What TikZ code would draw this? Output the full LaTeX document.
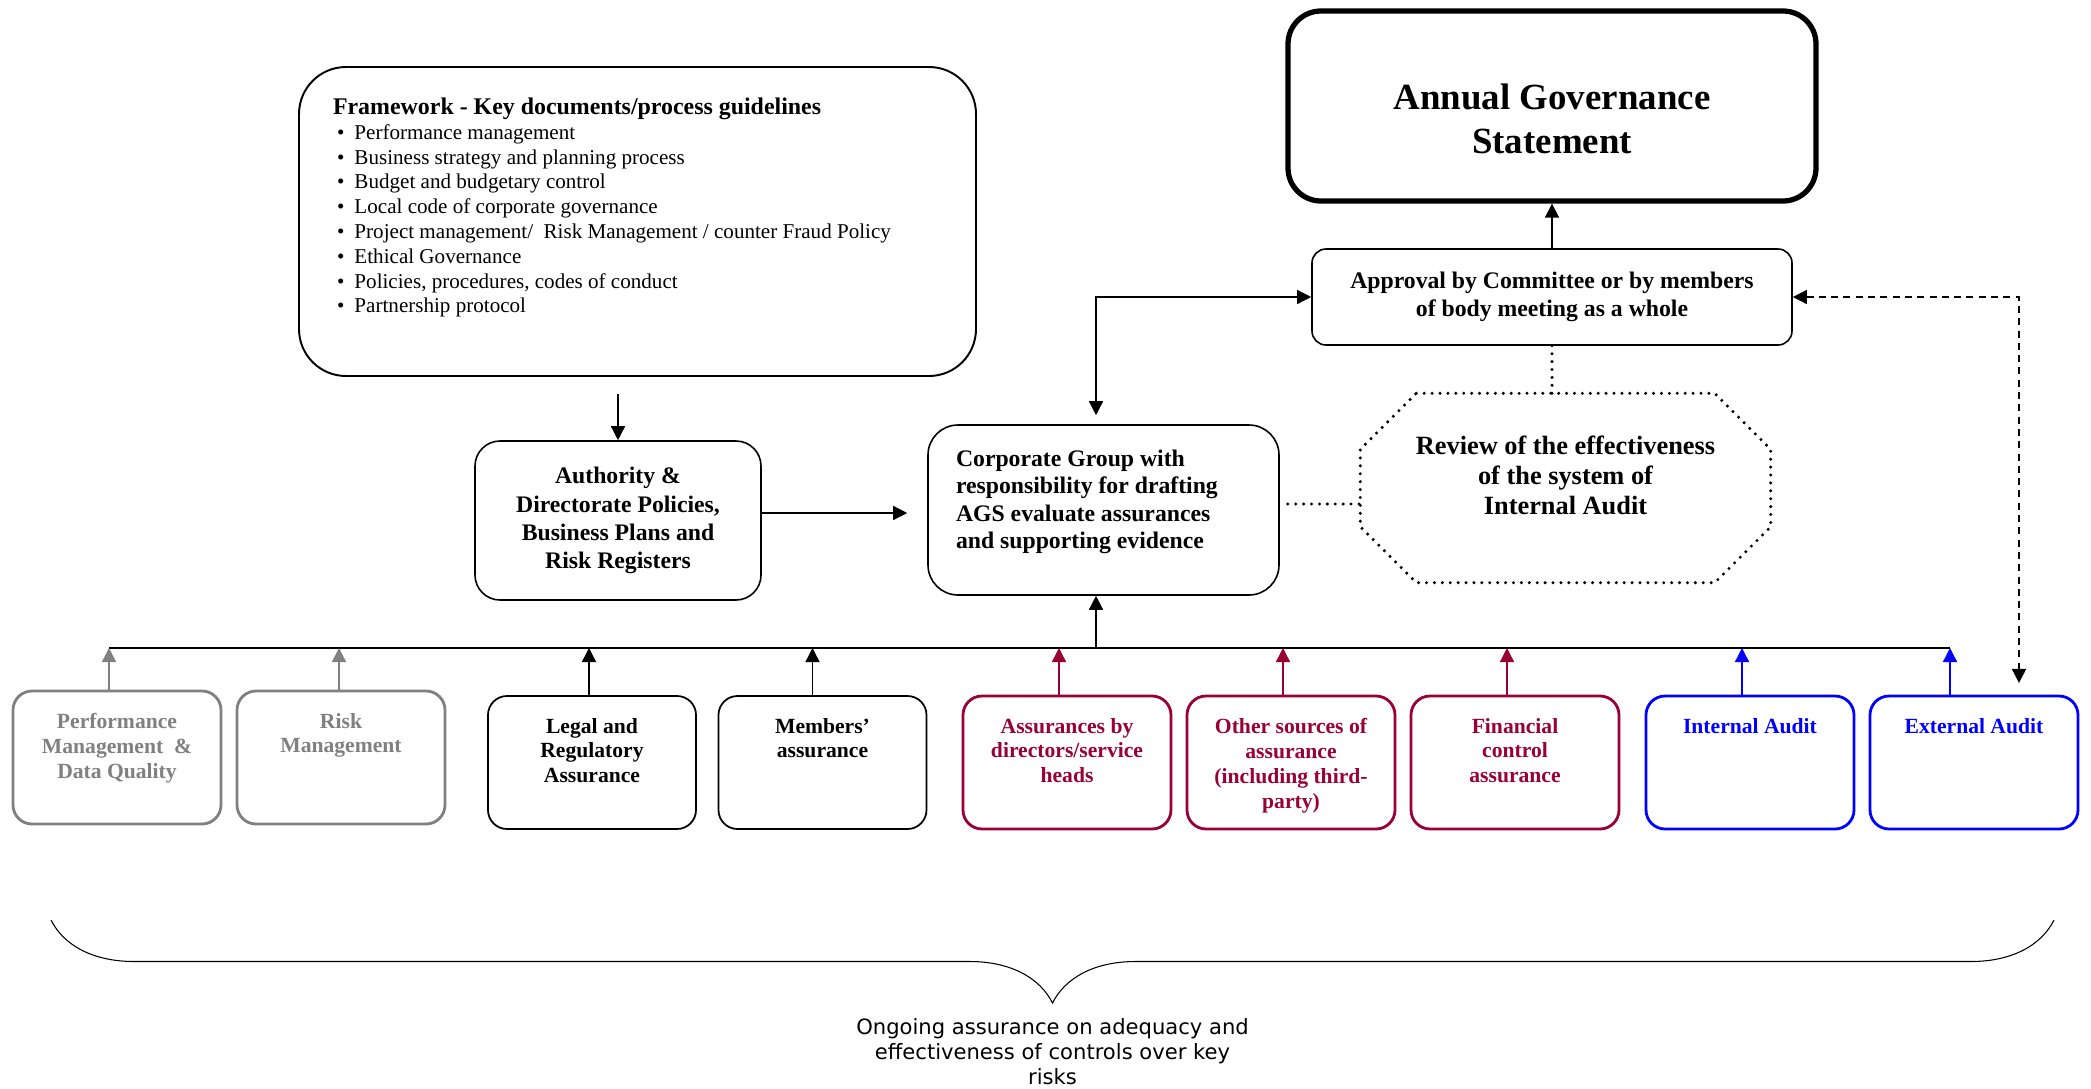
\documentclass[tikz,border=0pt]{standalone}
\usepackage{fontspec}
\setmainfont{Liberation Serif}
\newfontfamily\notefont{DejaVu Sans}
\usetikzlibrary{arrows.meta, positioning, decorations.pathreplacing}

\definecolor{boxgray}{RGB}{128,128,128}
\definecolor{maroon}{RGB}{153,0,51}
\definecolor{auditblue}{RGB}{0,0,255}

\newcommand{\keydoc}[1]{\hspace*{0.08cm}\makebox[0.35cm][l]{\textbullet}#1}

\begin{document}
\begin{tikzpicture}[
    >={Triangle[length=8pt, width=8pt]},
    line width=0.8pt,
    box/.style={draw, rounded corners=0.5cm, line width=0.9pt, text centered,
    align=center, font=\bfseries\fontsize{13.5}{16}\selectfont},
    topbox/.style={draw, rounded corners=0.66cm, line width=3pt, inner sep=0.3cm,
    font=\bfseries\fontsize{21}{25}\selectfont,
    execute at begin node={\begin{minipage}[c][3.2cm][c]{9.96cm}\centering\vspace*{0.52cm}},
    execute at end node={\end{minipage}}},
    docbox/.style={draw, rounded corners=0.94cm, line width=1.1pt,
    inner xsep=0.68cm, inner ysep=0.3cm, font=\fontsize{12}{14.1}\selectfont,
    execute at begin node={\begin{minipage}[c][5.58cm][t]{12.18cm}\raggedright\vspace*{0.32cm}},
    execute at end node={\end{minipage}}},
    corpbox/.style={draw, rounded corners=0.6cm, line width=0.9pt,
    inner xsep=0.56cm, inner ysep=0.3cm, font=\bfseries\fontsize{13.5}{15.6}\selectfont,
    execute at begin node={\begin{minipage}[c][2.8cm][t]{5.9cm}\raggedright\vspace*{0.2cm}},
    execute at end node={\end{minipage}}},
    src/.style={draw=#1, text=#1, rounded corners=0.38cm, line width=1.6pt,
    inner xsep=0.15cm, inner ysep=0.2cm, outer sep=0pt,
    font=\bfseries\fontsize{12.3}{14.2}\selectfont,
    execute at begin node={\begin{minipage}[c][2.26cm][t]{3.86cm}\centering\vspace*{0.24cm}},
    execute at end node={\end{minipage}}},
    src/.default=black,
    dotline/.style={line width=1.9pt, line cap=round, dash pattern=on 0pt off 4.5pt},
    dashline/.style={<->, line width=0.8pt, dash pattern=on 4pt off 3pt},
    curly/.style={decorate, decoration={brace, mirror, amplitude=1.66cm}, line width=0.6pt},
    note/.style={font=\notefont\fontsize{12}{14.2}\selectfont, align=center, inner sep=0pt}
    ]
    \useasboundingbox (0,0) rectangle (41.82,-21.76);

    \node[topbox]  (ags)        at (31.04,-2.12)   {Annual Governance\\Statement};
    \node[box, rounded corners=0.28cm, minimum width=9.6cm, minimum height=1.92cm]
                   (appr)       at (31.04,-5.94)   {Approval by Committee or by members\\of body meeting as a whole};
    \node[docbox]  (framework)  at (12.75,-4.43)   {{\bfseries\fontsize{13.6}{14.4}\selectfont Framework - Key documents/process guidelines}\\
        \keydoc{Performance management}\\
        \keydoc{Business strategy and planning process}\\
        \keydoc{Budget and budgetary control}\\
        \keydoc{Local code of corporate governance}\\
        \keydoc{Project management/\ \ Risk Management / counter Fraud Policy}\\
        \keydoc{Ethical Governance}\\
        \keydoc{Policies, procedures, codes of conduct}\\
        \keydoc{Partnership protocol}};
    \node[box, minimum width=5.72cm, minimum height=3.18cm]
                   (auth)       at (12.36,-10.41)  {Authority \&\\Directorate Policies,\\Business Plans and\\Risk Registers};
    \node[corpbox] (corp)       at (22.07,-10.2)   {Corporate Group with\\responsibility for drafting\\AGS evaluate assurances\\and supporting evidence};
    \node[minimum width=8.18cm, minimum height=3.76cm, inner sep=0pt]
                   (rev)        at (31.31,-9.76)   {};
    \node[font=\bfseries\fontsize{15}{17}\selectfont, align=center]
                   (revtext)    at ([yshift=0.25cm]rev.center) {Review of the effectiveness\\of the system of\\Internal Audit};

    \node[src=boxgray]   (perf)      at (2.34,-15.15)                  {Performance\\Management\ \ \&\\Data Quality};
    \node[src=boxgray]   (risk)      [right=0.32 of perf]              {Risk\\Management};
    \node[src, line width=1pt] (legal) [right=0.86 of risk, yshift=-0.1cm] {Legal and\\Regulatory\\Assurance};
    \node[src, line width=1pt] (memb)  [right=0.45 of legal]           {Members'\\assurance};
    \node[src=maroon]    (dirs)      [right=0.73 of memb]              {Assurances by\\directors/service\\heads};
    \node[src=maroon]    (other)     [right=0.32 of dirs]              {Other sources of\\assurance\\(including third-\\party)};
    \node[src=maroon]    (fin)       [right=0.32 of other]             {Financial\\control\\assurance};
    \node[src=auditblue] (intaudit)  [right=0.54 of fin]               {Internal Audit};
    \node[src=auditblue] (extaudit)  [right=0.32 of intaudit]          {External Audit};

    \coordinate (bus) at (0,-12.96);
    \coordinate (frameout) at ([yshift=-0.34cm]framework.south);

    \draw[line width=1pt] ([xshift=-0.16cm]perf.north |- bus) -- ([xshift=-0.48cm]extaudit.north |- bus);
    \path[->]
    ([xshift=-0.16cm]perf.north)      edge[boxgray]   ([xshift=-0.16cm]perf.north |- bus)
    ([xshift=-0.04cm]risk.north)      edge[boxgray]   ([xshift=-0.04cm]risk.north |- bus)
    ([xshift=-0.06cm]legal.north)     edge            ([xshift=-0.06cm]legal.north |- bus)
    ([xshift=-0.2cm]memb.north)       edge            ([xshift=-0.2cm]memb.north |- bus)
    ([xshift=-0.16cm]dirs.north)      edge[maroon]    ([xshift=-0.16cm]dirs.north |- bus)
    ([xshift=-0.16cm]other.north)     edge[maroon]    ([xshift=-0.16cm]other.north |- bus)
    ([xshift=-0.16cm]fin.north)       edge[maroon]    ([xshift=-0.16cm]fin.north |- bus)
    ([xshift=-0.16cm]intaudit.north)  edge[auditblue] ([xshift=-0.16cm]intaudit.north |- bus)
    ([xshift=-0.48cm]extaudit.north)  edge[auditblue] ([xshift=-0.48cm]extaudit.north |- bus)
    ;

    \draw[->] (frameout -| auth.north) -- (auth.north);
    \draw[->] ([yshift=0.15cm]auth.east) -- ([xshift=-0.4cm,yshift=0.15cm]corp.west |- auth.east);
    \draw[<->] ([xshift=-0.15cm,yshift=0.18cm]corp.north) |- (appr.west);
    \draw[->] ([xshift=-0.15cm]corp.south |- bus) -- ([xshift=-0.15cm]corp.south);
    \draw[->] (appr.north) -- (ags.south);
    \draw[dashline] (appr.east) -| ([xshift=0.9cm,yshift=0.26cm]extaudit.north);

    \draw[dotline] ([xshift=1.12cm]rev.north west) -- ([xshift=-1.12cm]rev.north east)
        -- ([yshift=-1.12cm]rev.north east) -- ([yshift=1.12cm]rev.south east)
        -- ([xshift=-1.12cm]rev.south east) -- ([xshift=1.12cm]rev.south west)
        -- ([yshift=1.12cm]rev.south west) -- ([yshift=-1.12cm]rev.north west) -- cycle;
    \draw[dotline] (appr.south) -- (appr.south |- rev.north);
    \draw[dotline] ([xshift=0.16cm,yshift=0.12cm]corp.east) -- ([yshift=0.12cm]rev.west |- corp.east);

    \coordinate (braceL) at (1.02,-18.4);
    \coordinate (braceR) at (41.08,-18.4);
    \coordinate (tip) at (21.05,-20.06);
    \draw[curly] (braceL) -- (braceR);
    \node[note] (ongoing) [below=0.3 of tip] {Ongoing assurance on adequacy and\\effectiveness of controls over key\\risks};
\end{tikzpicture}
\end{document}
